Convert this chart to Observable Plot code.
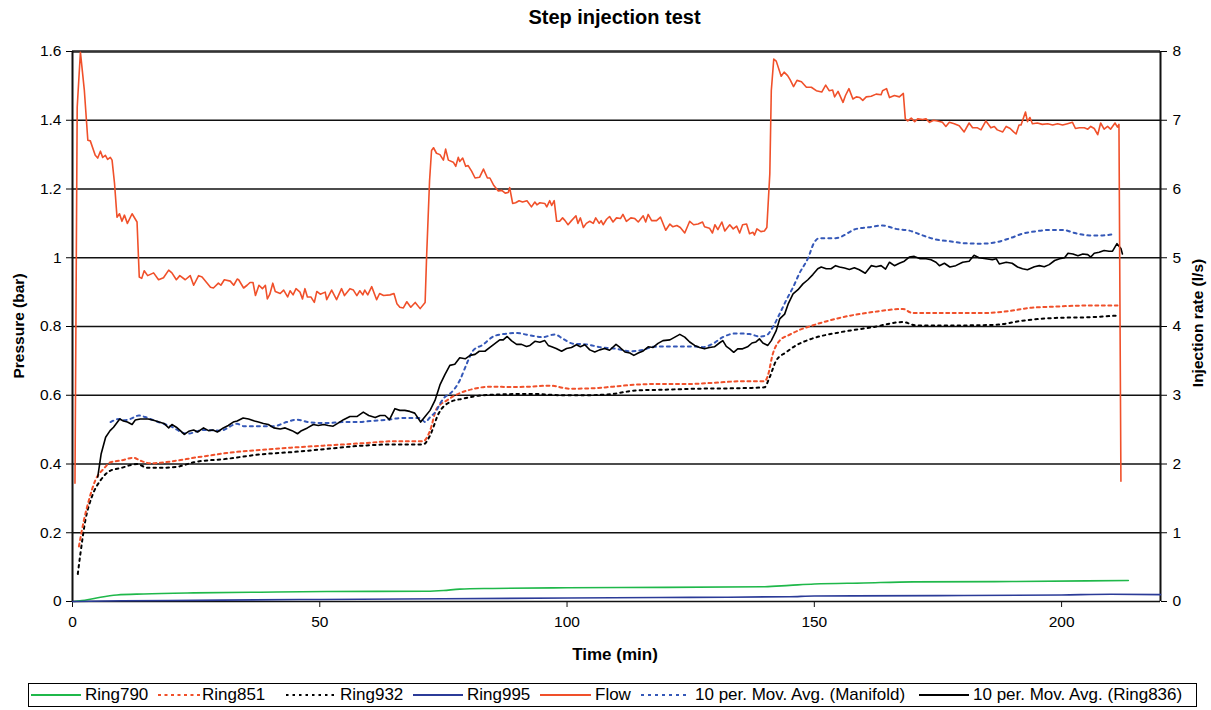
<!DOCTYPE html>
<html><head><meta charset="utf-8">
<script src="https://cdn.jsdelivr.net/npm/d3@7"></script>
<script src="https://cdn.jsdelivr.net/npm/@observablehq/plot@0.6"></script>
<style>
body{margin:0;background:#fff;font-family:"Liberation Sans",Arial,sans-serif;}
#wrap{position:relative;width:1211px;height:710px;overflow:hidden;background:#fff}
#wrap > svg{position:absolute;left:0;top:0}
.t{position:absolute;color:#000;white-space:nowrap;line-height:1}
.b{font-weight:bold}
#legend{position:absolute;left:28px;top:683px;width:1169px;height:24px;border:1px solid #000;box-sizing:border-box}
.ls{position:absolute;top:8px}
.lt{position:absolute;top:2px;font-size:17px;line-height:1;color:#000;white-space:nowrap}
</style></head><body><div id="wrap"></div>
<script>
// ---- tick values ----
const xTicks = [0, 50, 100, 150, 200];
const yTicks = [0, 0.2, 0.4, 0.6, 0.8, 1.0, 1.2, 1.4, 1.6];   // pressure (bar)
const flowPerBar = 5; // right axis: 0..8 l/s over 0..1.6 bar

// ---- Flow (l/s) ----
const flowTime = [0.5,0.95,1.6,2.4,3.1,3.6,4.6,5.1,5.65,6.1,6.65,7.1,7.65,8.0,8.5,9.0,9.5,10.0,10.5,11.1,12.05,13.05,13.5,14.0,14.5,15.2,16.4,17.4,18.4,19.45,20.1,21.0,21.7,22.8,23.8,24.5,25.5,26.2,27.9,28.5,29.5,30.0,30.7,31.9,32.6,33.3,33.6,34.6,35.3,35.9,36.5,37.0,37.7,38.4,39.0,39.4,39.9,40.5,41.0,42.0,42.7,43.5,44.0,44.6,45.2,46.0,46.5,47.0,47.5,48.2,48.9,49.4,50.1,51.1,51.4,52.4,53.4,54.4,55.0,56.1,56.8,57.5,58.1,58.7,59.1,59.7,60.5,61.5,62.1,62.9,64.2,65.0,65.6,66.2,66.9,67.6,68.4,69.3,70.3,71.3,71.6,72.2,72.6,73.0,73.6,74.3,75.0,75.45,76.0,77.0,77.5,78.0,78.3,78.9,79.5,80.0,80.7,81.4,82.3,83.1,83.9,84.4,85.2,86.1,86.8,87.5,88.1,88.4,89.0,89.6,90.3,91.0,91.9,92.8,93.5,93.9,94.5,95.5,95.9,96.5,96.9,97.4,97.9,98.5,99.1,99.6,100.2,100.9,101.8,102.2,102.7,103.3,103.9,104.6,105.3,105.8,106.5,106.9,107.3,108.0,108.6,109.3,110.0,110.8,111.3,112.0,112.9,113.7,114.4,115.4,115.9,116.4,117.1,118.1,118.9,119.95,120.8,121.4,122.2,122.9,123.8,124.8,125.6,126.5,127.4,127.8,128.8,129.4,129.9,130.5,131.3,131.9,132.9,133.6,134.3,134.9,135.5,136.3,136.9,137.6,137.9,138.4,139.2,139.9,140.4,141.0,141.3,141.8,142.3,143.3,143.9,144.6,145.1,145.8,146.5,147.4,148.4,149.4,150.4,151.5,152.3,153.0,153.7,154.1,154.8,155.8,156.3,157.0,157.8,158.5,159.2,159.8,160.5,161.5,162.5,163.5,163.8,164.6,165.2,166.2,167.2,168.0,168.4,168.9,169.6,170.3,170.9,171.9,172.6,173.3,174.1,174.9,175.9,176.6,177.3,178.3,179.3,180.3,181.3,182.0,183.0,183.7,184.7,185.7,186.4,187.0,188.1,188.8,189.6,190.3,190.8,191.4,191.8,192.7,193.1,193.6,194.1,195.1,196.1,197.2,198.2,199.2,200.2,201.2,202.2,202.8,203.6,204.6,205.3,205.9,206.6,207.3,207.9,208.6,209.3,209.9,210.8,211.3,211.6,212.0];
const flowRate = [1.72,7.19,7.99,7.43,6.71,6.70,6.49,6.45,6.55,6.46,6.49,6.43,6.46,6.42,6.08,5.59,5.64,5.53,5.62,5.50,5.64,5.52,4.72,4.70,4.81,4.74,4.78,4.68,4.71,4.82,4.78,4.68,4.74,4.68,4.74,4.60,4.74,4.72,4.57,4.56,4.63,4.60,4.68,4.66,4.60,4.69,4.68,4.56,4.60,4.64,4.64,4.45,4.60,4.55,4.60,4.40,4.47,4.63,4.51,4.48,4.53,4.43,4.52,4.46,4.55,4.50,4.40,4.55,4.43,4.43,4.35,4.51,4.47,4.50,4.39,4.53,4.39,4.55,4.45,4.55,4.53,4.45,4.52,4.46,4.53,4.46,4.58,4.39,4.48,4.45,4.46,4.48,4.33,4.28,4.27,4.36,4.28,4.35,4.26,4.35,5.01,6.12,6.56,6.60,6.52,6.50,6.42,6.58,6.42,6.39,6.33,6.46,6.40,6.45,6.33,6.34,6.26,6.16,6.17,6.29,6.16,6.16,6.05,5.97,5.98,5.94,5.95,6.02,5.79,5.80,5.83,5.81,5.83,5.74,5.81,5.77,5.80,5.79,5.74,5.83,5.76,5.83,5.53,5.53,5.58,5.54,5.48,5.54,5.61,5.50,5.58,5.44,5.50,5.53,5.50,5.58,5.50,5.54,5.48,5.56,5.60,5.52,5.58,5.57,5.63,5.53,5.58,5.57,5.52,5.61,5.52,5.63,5.54,5.54,5.59,5.40,5.49,5.45,5.47,5.44,5.36,5.53,5.48,5.49,5.52,5.45,5.43,5.36,5.48,5.41,5.52,5.39,5.48,5.42,5.46,5.36,5.48,5.49,5.35,5.37,5.33,5.42,5.38,5.39,5.44,6.22,7.43,7.89,7.86,7.64,7.70,7.65,7.59,7.49,7.58,7.56,7.48,7.48,7.43,7.41,7.51,7.43,7.44,7.34,7.42,7.26,7.36,7.46,7.31,7.34,7.33,7.29,7.34,7.35,7.38,7.37,7.43,7.46,7.33,7.36,7.34,7.39,7.02,6.99,7.03,6.98,7.02,7.01,7.02,6.97,7.00,6.99,6.97,6.91,6.97,6.95,6.92,6.83,6.96,6.89,6.89,6.86,6.99,6.89,6.91,6.86,6.83,6.91,6.88,6.83,6.80,6.93,6.93,7.12,6.98,7.04,6.95,6.96,6.94,6.95,6.93,6.95,6.93,6.95,6.97,6.88,6.89,6.89,6.87,6.91,6.88,6.79,6.96,6.87,6.91,6.87,6.96,6.90,6.94,1.75];

// ---- 10 per. Mov. Avg. (Ring836) (bar) ----
const r836Time = [5.1,5.8,6.7,7.6,8.3,9.55,10.3,11.1,12.05,12.7,13.7,15.3,16.4,17.5,18.5,19.45,20.1,21.0,21.8,22.6,23.5,24.5,25.3,26.5,27.5,28.4,29.3,30.5,31.5,32.5,33.3,34.5,35.6,36.8,37.6,38.6,39.6,40.7,42.0,43.0,44.4,45.5,46.3,47.5,48.7,49.7,50.8,51.7,52.7,53.7,54.8,56.1,57.5,58.8,59.9,61.2,62.2,63.2,64.1,65.2,66.2,67.2,68.2,69.2,70.4,71.3,72.3,73.3,74.3,75.3,76.3,77.3,78.3,79.4,80.4,81.4,82.25,83.4,84.4,85.4,86.4,87.1,87.9,88.8,89.8,90.8,91.8,92.5,93.5,94.5,95.5,96.2,96.9,97.8,98.9,99.9,100.9,101.9,102.7,103.6,104.6,105.6,106.6,107.6,108.6,109.9,110.7,111.7,112.7,113.5,114.4,115.4,116.4,117.4,118.4,119.4,120.8,121.8,122.8,123.8,124.8,125.8,126.8,127.8,128.8,129.8,130.8,131.5,132.2,132.9,133.7,134.5,135.5,136.5,137.4,138.2,138.9,139.6,140.6,141.3,142.3,143.0,144.0,144.7,145.7,146.7,147.7,148.7,149.7,150.7,151.4,152.4,153.4,154.3,155.1,156.1,157.1,158.1,159.1,160.3,161.5,162.5,163.5,164.4,165.2,166.2,167.2,168.2,169.2,170.2,171.4,172.6,173.6,174.6,175.3,176.3,177.4,178.6,180.0,181.3,182.3,183.3,184.7,186.0,186.8,187.4,188.8,190.0,191.1,192.1,193.1,194.5,195.5,196.5,197.5,198.6,199.6,200.6,201.3,202.3,203.3,204.3,205.3,205.9,206.6,207.6,208.6,209.6,210.3,211.2,212.0,212.3];
const r836P = [0.362,0.43,0.478,0.497,0.507,0.531,0.525,0.522,0.515,0.528,0.531,0.531,0.527,0.522,0.518,0.505,0.515,0.507,0.497,0.486,0.495,0.499,0.493,0.505,0.497,0.499,0.493,0.505,0.512,0.522,0.525,0.534,0.531,0.525,0.522,0.518,0.515,0.505,0.502,0.505,0.497,0.488,0.497,0.505,0.515,0.512,0.515,0.512,0.51,0.519,0.529,0.538,0.538,0.551,0.541,0.535,0.541,0.541,0.529,0.561,0.556,0.556,0.553,0.548,0.522,0.538,0.556,0.585,0.63,0.66,0.687,0.69,0.709,0.706,0.716,0.719,0.728,0.728,0.739,0.75,0.761,0.761,0.771,0.758,0.748,0.748,0.742,0.745,0.757,0.754,0.759,0.745,0.741,0.736,0.728,0.736,0.739,0.747,0.741,0.747,0.732,0.726,0.732,0.736,0.731,0.748,0.739,0.726,0.723,0.716,0.723,0.729,0.741,0.739,0.751,0.759,0.761,0.769,0.777,0.769,0.755,0.745,0.739,0.735,0.739,0.741,0.752,0.759,0.742,0.735,0.725,0.735,0.735,0.741,0.752,0.755,0.764,0.752,0.745,0.759,0.788,0.822,0.836,0.865,0.895,0.907,0.924,0.936,0.951,0.968,0.973,0.968,0.968,0.977,0.973,0.97,0.966,0.971,0.965,0.955,0.977,0.974,0.977,0.967,0.987,0.977,0.984,0.99,1.002,1.004,0.997,0.997,0.994,0.987,0.977,0.984,0.973,0.977,0.987,0.99,1.007,1.0,0.997,0.994,0.997,0.982,0.987,0.984,0.973,0.968,0.965,0.974,0.977,0.974,0.98,0.992,0.997,1.0,1.013,1.011,1.006,1.011,1.009,1.002,1.013,1.016,1.021,1.019,1.019,1.041,1.027,1.011];

// ---- 10 per. Mov. Avg. (Manifold) (bar) ----
const manTime = [7.7,9.5,10.3,11.5,13.4,15.0,16.4,19.8,23.2,26.5,29.9,33.3,34.6,37.2,40.7,43.3,45.3,48.0,51.4,54.8,57.5,60.2,63.6,67.0,70.3,71.3,72.3,73.6,74.3,75.3,76.3,78.3,79.7,81.0,83.0,85.1,87.1,89.8,92.5,95.1,97.5,99.2,101.2,103.9,106.6,110.0,112.7,115.4,117.4,120.1,122.8,125.5,127.5,129.5,131.5,134.2,136.9,138.9,140.3,141.6,143.0,144.3,145.7,147.0,148.7,150.0,151.0,154.3,158.5,161.2,163.8,166.5,169.2,171.9,174.6,177.3,180.6,183.7,186.7,189.4,192.1,194.8,197.5,200.2,202.9,205.6,208.3,210.3];
const manP = [0.522,0.531,0.527,0.53,0.541,0.535,0.527,0.51,0.488,0.499,0.497,0.517,0.51,0.51,0.51,0.522,0.529,0.521,0.519,0.522,0.522,0.525,0.529,0.534,0.534,0.522,0.536,0.556,0.575,0.595,0.604,0.643,0.691,0.73,0.747,0.771,0.778,0.781,0.774,0.769,0.777,0.764,0.75,0.748,0.74,0.735,0.728,0.732,0.741,0.742,0.742,0.742,0.74,0.75,0.769,0.78,0.778,0.771,0.774,0.798,0.837,0.876,0.914,0.955,0.998,1.045,1.057,1.057,1.084,1.089,1.094,1.084,1.079,1.065,1.053,1.048,1.042,1.041,1.045,1.056,1.07,1.077,1.081,1.081,1.071,1.065,1.065,1.068];

// ---- Ring851 (bar) ----
const r851Time = [1.3,2.3,3.3,4.6,6.3,7.7,9.7,12.4,13.7,15.75,17.8,21.2,24.5,27.9,31.2,38.0,44.7,51.4,58.2,64.9,70.9,72.3,73.6,75.7,78.3,81.0,84.4,89.1,92.5,96.5,100.6,104.6,109.3,114.0,119.4,124.8,129.5,135.6,140.0,140.6,141.6,143.0,145.0,147.0,149.0,155.1,161.8,167.9,169.9,175.3,184.0,189.4,193.5,198.8,205.6,211.3];
const r851P = [0.16,0.236,0.294,0.352,0.386,0.405,0.41,0.418,0.41,0.402,0.404,0.41,0.418,0.425,0.432,0.441,0.448,0.454,0.46,0.466,0.466,0.497,0.56,0.585,0.606,0.618,0.625,0.624,0.625,0.628,0.619,0.62,0.625,0.631,0.633,0.633,0.636,0.641,0.641,0.657,0.72,0.759,0.776,0.79,0.8,0.825,0.842,0.851,0.839,0.839,0.839,0.845,0.854,0.858,0.861,0.861];

// ---- Ring932 (bar) ----
const r932Time = [1.07,1.6,2.6,4.0,5.65,7.7,9.7,13.05,15.1,17.8,21.2,24.5,31.2,38.0,44.7,51.4,58.2,64.9,70.9,72.3,74.0,76.3,79.0,83.1,92.5,99.2,103.9,109.3,114.0,119.4,126.1,132.9,139.9,140.9,142.3,144.3,146.3,149.0,155.1,161.8,167.9,170.6,178.6,186.7,192.1,198.8,205.6,211.3];
const r932P = [0.08,0.139,0.236,0.308,0.352,0.381,0.388,0.4,0.389,0.389,0.392,0.405,0.415,0.428,0.435,0.444,0.453,0.457,0.457,0.483,0.546,0.58,0.59,0.6,0.604,0.6,0.6,0.604,0.614,0.616,0.619,0.62,0.623,0.65,0.701,0.725,0.745,0.762,0.783,0.798,0.813,0.803,0.803,0.805,0.817,0.825,0.827,0.832];

// ---- Ring790 (bar) ----
const r790Time = [0.3,3,5.65,9,14.4,24.5,38,51.4,71.6,75,78.3,85,100,120,140,145,150,160,170,190,205,213.5];
const r790P = [0,0.005,0.0125,0.019,0.022,0.025,0.027,0.029,0.03,0.032,0.036,0.038,0.04,0.041,0.043,0.047,0.051,0.054,0.057,0.058,0.06,0.061];

// ---- Ring995 (bar) ----
const r995Time = [0,10,30,50,75,100,125,145,150,175,200,210,220];
const r995P = [0,0.002,0.004,0.006,0.008,0.01,0.012,0.014,0.016,0.017,0.019,0.021,0.02];

const zip = (ts, vs) => ts.map((t, i) => ({t, v: vs[i]}));

const colors = {
  r790: "#1fb84a", r851: "#f0502a", r932: "#000000", r995: "#2b3b98",
  flow: "#f0502a", man: "#3558b8", r836: "#000000"
};

const chart = Plot.plot({
  width: 1211, height: 710,
  marginTop: 51, marginLeft: 72, marginRight: 51, marginBottom: 109,
  style: {fontFamily: "'Liberation Sans', Arial, sans-serif", fontSize: "15px", color: "#000", background: "transparent", overflow: "visible"},
  x: {domain: [0, 220]},
  y: {domain: [0, 1.6]},
  marks: [
    Plot.ruleY(yTicks, {stroke: "#111", strokeWidth: 1.4}),
    Plot.ruleY([1.6], {stroke: "#333", strokeWidth: 2.6}),
    Plot.ruleX([0, 220], {y1: 0, y2: 1.6, stroke: "#111", strokeWidth: 2}),
    Plot.axisX({ticks: xTicks, tickSize: 6, tickPadding: 8, label: null, fontSize: 15.5, stroke: "#111"}),
    Plot.axisY({anchor: "left", ticks: yTicks, tickSize: 6, tickPadding: 5, label: null, fontSize: 15.5,
      tickFormat: d => String(+d.toFixed(1))}),
    Plot.axisY({anchor: "right", ticks: yTicks, tickSize: 6, tickPadding: 6, label: null, fontSize: 15.5,
      tickFormat: d => String(Math.round(d * flowPerBar))}),
    Plot.line(zip(r790Time, r790P), {x: "t", y: "v", stroke: colors.r790, strokeWidth: 1.6, curve: "monotone-x"}),
    Plot.line(zip(r995Time, r995P), {x: "t", y: "v", stroke: colors.r995, strokeWidth: 1.6, curve: "monotone-x"}),
    Plot.line(zip(r932Time, r932P), {x: "t", y: "v", stroke: colors.r932, strokeWidth: 2, strokeDasharray: "2.5,4", curve: "monotone-x"}),
    Plot.line(zip(r851Time, r851P), {x: "t", y: "v", stroke: colors.r851, strokeWidth: 2, strokeDasharray: "3,3.5", curve: "monotone-x"}),
    Plot.line(zip(manTime, manP), {x: "t", y: "v", stroke: colors.man, strokeWidth: 2, strokeDasharray: "3,4", curve: "monotone-x"}),
    Plot.line(zip(r836Time, r836P), {x: "t", y: "v", stroke: colors.r836, strokeWidth: 1.6}),
    Plot.line(zip(flowTime, flowRate), {x: "t", y: d => d.v / flowPerBar, stroke: colors.flow, strokeWidth: 1.6})
  ]
});

const wrap = document.getElementById("wrap");
wrap.appendChild(chart);

function addText(txt, css, cls) {
  const d = document.createElement("div");
  d.className = "t " + (cls || "");
  d.textContent = txt;
  Object.assign(d.style, css);
  wrap.appendChild(d);
  return d;
}
addText("Step injection test", {left: "0px", width: "1229px", textAlign: "center", top: "7px", fontSize: "20px"}, "b");
addText("Time (min)", {left: "0px", width: "1230px", textAlign: "center", top: "646px", fontSize: "17px"}, "b");
addText("Pressure (bar)", {left: "19px", top: "326px", fontSize: "15.5px", transform: "translate(-50%,-50%) rotate(-90deg)"}, "b");
addText("Injection rate (l/s)", {left: "1198px", top: "323px", fontSize: "15.5px", transform: "translate(-50%,-50%) rotate(-90deg)"}, "b");

// legend (absolute page x positions of swatch start/end and text start)
const legendItems = [
  {name: "Ring790", color: colors.r790, dash: null, s0: 31, s1: 81, tx: 85},
  {name: "Ring851", color: colors.r851, dash: "3,3.5", s0: 158, s1: 201, tx: 202},
  {name: "Ring932", color: colors.r932, dash: "2.5,4", s0: 286, s1: 334, tx: 340},
  {name: "Ring995", color: colors.r995, dash: null, s0: 413, s1: 463, tx: 467},
  {name: "Flow", color: colors.flow, dash: null, s0: 540, s1: 591, tx: 595},
  {name: "10 per. Mov. Avg. (Manifold)", color: colors.man, dash: "3,4", s0: 641, s1: 689, tx: 695},
  {name: "10 per. Mov. Avg. (Ring836)", color: colors.r836, dash: null, s0: 919, s1: 969, tx: 973}
];
const lg = document.createElement("div");
lg.id = "legend";
wrap.appendChild(lg);
const ns = "http://www.w3.org/2000/svg";
const lgLeft = 29;
for (const it of legendItems) {
  const w = it.s1 - it.s0;
  const s = document.createElementNS(ns, "svg");
  s.setAttribute("class", "ls");
  s.setAttribute("width", w); s.setAttribute("height", 6);
  s.style.left = (it.s0 - lgLeft) + "px";
  const l = document.createElementNS(ns, "line");
  l.setAttribute("x1", 0); l.setAttribute("x2", w); l.setAttribute("y1", 3); l.setAttribute("y2", 3);
  l.setAttribute("stroke", it.color); l.setAttribute("stroke-width", it.dash ? 2 : 1.8);
  if (it.dash) l.setAttribute("stroke-dasharray", it.dash);
  s.appendChild(l);
  lg.appendChild(s);
  const sp = document.createElement("div");
  sp.className = "lt";
  sp.style.left = (it.tx - lgLeft) + "px";
  sp.textContent = it.name;
  lg.appendChild(sp);
}
</script></body></html>
